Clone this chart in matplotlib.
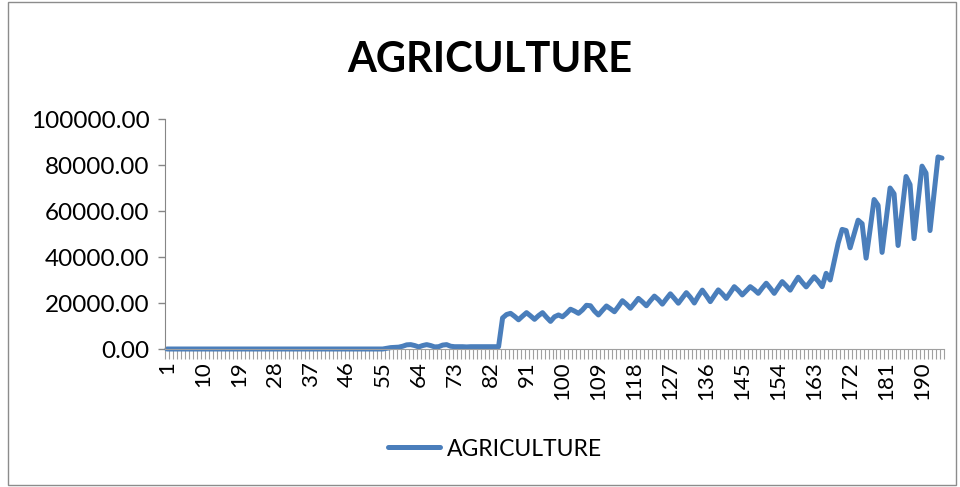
import numpy as np
from matplotlib import pyplot as plt
from matplotlib.patches import Rectangle

plt.rcParams['font.family'] = ['Lato', 'DejaVu Sans']

# quarterly values, index 1..195
flat_start = [0] * 55
early = [300, 600, 700, 800, 1200, 1800, 1900, 1500, 900, 1500,
         1900, 1500, 900, 1000, 1700, 1900, 1200, 1000, 1000, 1000,
         900, 1000, 1000, 1000, 1000, 1000, 1000, 1000, 1000]
middle = [13500, 15000, 15500, 14200, 12700, 14300, 15800, 14400, 12900, 14500,
          15800, 13800, 12000, 14000, 14800, 14000, 15500, 17300, 16500, 15500,
          17000, 19000, 18800, 16500, 14800, 16800, 18700, 17500, 16200, 18500,
          21000, 19500, 17700, 19800, 22000, 20500, 18800, 21000, 23000, 21500,
          19500, 21800, 24000, 22000, 19900, 22200, 24500, 22500, 20000, 23000,
          25600, 23200, 20600, 23200, 25700, 24000, 22000, 24500, 27100, 25500,
          23500, 25300, 27100, 25800, 24200, 26500, 28600, 26500, 24200, 26800,
          29300, 27500, 25600, 28500, 31200, 29000, 27000, 29200, 31400, 29500,
          27100, 32900, 30000]
late = [38000, 46000, 52000, 51500, 44000, 50000, 56000, 54500, 39500, 52000,
        65000, 62500, 42000, 56000, 70000, 67500, 45000, 60000, 75000, 71500,
        48000, 64000, 79500, 76500, 51500, 67500, 83500, 83000]

values = np.array(flat_start + early + middle + late, dtype=float)
periods = np.arange(1, len(values) + 1)
label_ticks = list(range(1, 191, 9))

fig = plt.figure(figsize=(9.6, 4.87), dpi=100)
ax = fig.add_axes([165 / 960, 1 - 349 / 487, 779 / 960, 230 / 487])

ax.plot(periods, values, color='#4A7EBB', linewidth=3.6, solid_joinstyle='round',
        solid_capstyle='round', label='AGRICULTURE', clip_on=False)

ax.set_xlim(0.5, len(values) + 0.5)
ax.set_ylim(0, 100000)
ax.set_yticks(np.arange(0, 100001, 20000))
ax.set_yticklabels([f'{v:.2f}' for v in np.arange(0, 100001, 20000)], fontsize=17.5)
ax.set_xticks(label_ticks)
ax.set_xticklabels([str(t) for t in label_ticks], rotation=90, fontsize=16)
ax.tick_params(axis='x', length=0, pad=9)
ax.tick_params(axis='y', pad=6)
ax.set_xticks(np.arange(0.5, len(values) + 1, 1), minor=True)
ax.tick_params(axis='x', which='minor', length=7, color='#A0A0A0', width=0.8)
ax.tick_params(axis='y', length=5, color='#868686', width=1)

for side in ['top', 'right']:
    ax.spines[side].set_visible(False)
ax.spines['left'].set_color('#868686')
ax.spines['bottom'].set_color('#A0A0A0')

fig.text(490 / 960, 1 - 60 / 487, 'AGRICULTURE', ha='center', va='center',
         fontsize=30, fontweight='bold')

fig.legend(loc='center', bbox_to_anchor=(495 / 960, 1 - 449 / 487), frameon=False,
           fontsize=16.5, handlelength=2.3, handletextpad=0.3)

fig.patches.append(Rectangle((8 / 960, 2 / 487), 948 / 960, 483 / 487, transform=fig.transFigure,
                             fill=False, edgecolor='#8C8C8C', linewidth=1))

fig.savefig('out.png', dpi=100)
